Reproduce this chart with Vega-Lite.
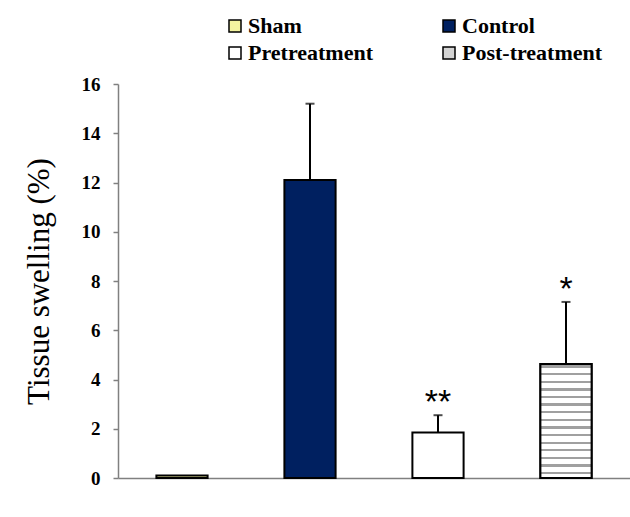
{
  "$schema": "https://vega.github.io/schema/vega-lite/v6.json",
  "width": 512,
  "height": 394,
  "autosize": {"type": "none"},
  "padding": {"left": 118, "top": 84, "right": 0, "bottom": 39},
  "background": "white",
  "config": {"view": {"stroke": null}},
  "data": {
    "values": [
      {"group": "Sham", "value": 0.1, "errtop": null, "sig": ""},
      {"group": "Control", "value": 12.1, "errtop": 15.2, "sig": ""},
      {"group": "Pretreatment", "value": 1.85, "errtop": 2.55, "sig": "**"},
      {"group": "Post-treatment", "value": 4.63, "errtop": 7.15, "sig": "*"}
    ]
  },
  "encoding": {
    "x": {
      "field": "group",
      "type": "nominal",
      "sort": ["Sham", "Control", "Pretreatment", "Post-treatment"],
      "scale": {"paddingInner": 0.6, "paddingOuter": 0.3},
      "axis": {"title": null, "labels": false, "ticks": false, "domainColor": "#808080", "domainWidth": 1.5}
    }
  },
  "layer": [
    {
      "mark": {"type": "bar", "stroke": "black", "strokeWidth": 2},
      "encoding": {
        "y": {
          "field": "value",
          "type": "quantitative",
          "scale": {"domain": [0, 16]},
          "axis": {
            "title": "Tissue swelling (%)",
            "titleFont": "Liberation Serif",
            "titleFontWeight": "normal",
            "titleFontSize": 31,
            "titleColor": "black",
            "titlePadding": 26,
            "values": [0, 2, 4, 6, 8, 10, 12, 14, 16],
            "grid": false,
            "domainColor": "#808080",
            "domainWidth": 1.5,
            "tickColor": "#808080",
            "tickWidth": 1.5,
            "tickSize": 5,
            "labelFont": "Liberation Serif",
            "labelFontWeight": 600,
            "labelFontSize": 19,
            "labelColor": "black",
            "labelPadding": 13
          }
        },
        "fill": {
          "field": "group",
          "type": "nominal",
          "scale": {
            "domain": ["Sham", "Pretreatment", "Control", "Post-treatment"],
            "range": ["#f3f3a0", "#ffffff", "#002060", "#d4d4d4"]
          },
          "legend": {
            "title": null,
            "orient": "none",
            "legendX": 106,
            "legendY": -69,
            "columns": 2,
            "columnPadding": 64,
            "rowPadding": 5,
            "padding": 0,
            "symbolType": "square",
            "symbolSize": 144,
            "symbolStrokeColor": "black",
            "symbolStrokeWidth": 1.5,
            "labelFont": "Liberation Serif",
            "labelFontWeight": 600,
            "labelFontSize": 22,
            "labelLimit": 300,
            "labelColor": "black",
            "labelOffset": 2
          }
        }
      }
    },
    {
      "transform": [{"filter": "datum.group === 'Post-treatment'"}],
      "mark": {
        "type": "bar",
        "stroke": "black",
        "strokeWidth": 2,
        "fill": {
          "gradient": "linear",
          "x1": 0, "y1": 0, "x2": 0, "y2": 1,
          "stops": [
            {"offset": 0, "color": "#ffffff"},
            {"offset": 0.013, "color": "#ffffff"}, {"offset": 0.013, "color": "#a0a0a0"}, {"offset": 0.033, "color": "#a0a0a0"}, {"offset": 0.033, "color": "#ffffff"},
            {"offset": 0.080, "color": "#ffffff"}, {"offset": 0.080, "color": "#a0a0a0"}, {"offset": 0.100, "color": "#a0a0a0"}, {"offset": 0.100, "color": "#ffffff"},
            {"offset": 0.146, "color": "#ffffff"}, {"offset": 0.146, "color": "#a0a0a0"}, {"offset": 0.166, "color": "#a0a0a0"}, {"offset": 0.166, "color": "#ffffff"},
            {"offset": 0.213, "color": "#ffffff"}, {"offset": 0.213, "color": "#a0a0a0"}, {"offset": 0.233, "color": "#a0a0a0"}, {"offset": 0.233, "color": "#ffffff"},
            {"offset": 0.280, "color": "#ffffff"}, {"offset": 0.280, "color": "#a0a0a0"}, {"offset": 0.300, "color": "#a0a0a0"}, {"offset": 0.300, "color": "#ffffff"},
            {"offset": 0.346, "color": "#ffffff"}, {"offset": 0.346, "color": "#a0a0a0"}, {"offset": 0.366, "color": "#a0a0a0"}, {"offset": 0.366, "color": "#ffffff"},
            {"offset": 0.413, "color": "#ffffff"}, {"offset": 0.413, "color": "#a0a0a0"}, {"offset": 0.433, "color": "#a0a0a0"}, {"offset": 0.433, "color": "#ffffff"},
            {"offset": 0.480, "color": "#ffffff"}, {"offset": 0.480, "color": "#a0a0a0"}, {"offset": 0.500, "color": "#a0a0a0"}, {"offset": 0.500, "color": "#ffffff"},
            {"offset": 0.546, "color": "#ffffff"}, {"offset": 0.546, "color": "#a0a0a0"}, {"offset": 0.566, "color": "#a0a0a0"}, {"offset": 0.566, "color": "#ffffff"},
            {"offset": 0.613, "color": "#ffffff"}, {"offset": 0.613, "color": "#a0a0a0"}, {"offset": 0.633, "color": "#a0a0a0"}, {"offset": 0.633, "color": "#ffffff"},
            {"offset": 0.680, "color": "#ffffff"}, {"offset": 0.680, "color": "#a0a0a0"}, {"offset": 0.700, "color": "#a0a0a0"}, {"offset": 0.700, "color": "#ffffff"},
            {"offset": 0.746, "color": "#ffffff"}, {"offset": 0.746, "color": "#a0a0a0"}, {"offset": 0.766, "color": "#a0a0a0"}, {"offset": 0.766, "color": "#ffffff"},
            {"offset": 0.813, "color": "#ffffff"}, {"offset": 0.813, "color": "#a0a0a0"}, {"offset": 0.833, "color": "#a0a0a0"}, {"offset": 0.833, "color": "#ffffff"},
            {"offset": 0.880, "color": "#ffffff"}, {"offset": 0.880, "color": "#a0a0a0"}, {"offset": 0.900, "color": "#a0a0a0"}, {"offset": 0.900, "color": "#ffffff"},
            {"offset": 0.946, "color": "#ffffff"}, {"offset": 0.946, "color": "#a0a0a0"}, {"offset": 0.966, "color": "#a0a0a0"}, {"offset": 0.966, "color": "#ffffff"},
            {"offset": 1, "color": "#ffffff"}
          ]
        }
      },
      "encoding": {
        "y": {"field": "value", "type": "quantitative"}
      }
    },
    {
      "transform": [{"filter": "datum.errtop != null"}],
      "mark": {"type": "rule", "color": "black", "strokeWidth": 2},
      "encoding": {
        "y": {"field": "value", "type": "quantitative"},
        "y2": {"field": "errtop"}
      }
    },
    {
      "transform": [{"filter": "datum.errtop != null"}],
      "mark": {"type": "tick", "orient": "horizontal", "color": "black", "size": 9, "thickness": 2},
      "encoding": {
        "y": {"field": "errtop", "type": "quantitative"}
      }
    },
    {
      "transform": [{"filter": "datum.errtop != null"}],
      "mark": {"type": "text", "font": "Liberation Sans", "fontSize": 34, "color": "black", "baseline": "alphabetic", "align": "center", "dy": -2},
      "encoding": {
        "y": {"field": "errtop", "type": "quantitative"},
        "text": {"field": "sig"}
      }
    }
  ]
}
